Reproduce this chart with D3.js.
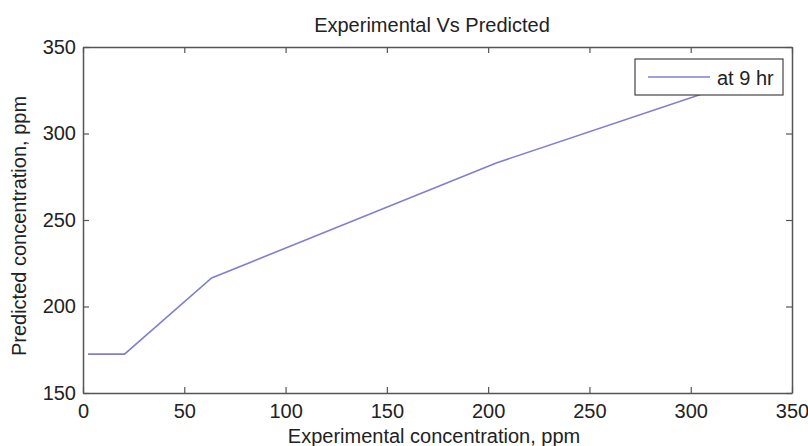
<!DOCTYPE html>
<html><head><meta charset="utf-8">
<script src="https://cdn.jsdelivr.net/npm/d3@7"></script>
<style>body{margin:0;background:#fff}text{font-family:"Liberation Sans",Arial,sans-serif;fill:#222}</style>
</head><body><svg id="c" width="808" height="446"></svg>
<script>
const xValues = [2.5, 20.5, 63.5, 204, 310];
const yValues = [172.5, 172.5, 216.5, 283, 324.5];
const xTicks = [0, 50, 100, 150, 200, 250, 300, 350];
const yTicks = [150, 200, 250, 300, 350];
const title = "Experimental Vs Predicted";
const xLabel = "Experimental concentration, ppm";
const yLabel = "Predicted concentration, ppm";
const legendLabel = "at 9 hr";

const svg = d3.select("#c");
const m = {l: 83, t: 47, r: 792, b: 393};
const x = d3.scaleLinear().domain([0, 350]).range([m.l, m.r]);
const y = d3.scaleLinear().domain([150, 350]).range([m.b, m.t]);
const axisColor = "#555";
const fs = 20;

// line
svg.append("path").datum(xValues.map((v, i) => [v, yValues[i]]))
  .attr("fill", "none").attr("stroke", "#7f7fd2").attr("stroke-width", 1.6)
  .attr("d", d3.line().x(d => x(d[0])).y(d => y(d[1])));

// axes with inside ticks
function styleAxis(g) {
  g.select(".domain").attr("stroke", axisColor).attr("stroke-width", 1.5);
  g.selectAll(".tick line").attr("stroke", axisColor).attr("stroke-width", 1.2);
  g.selectAll("text").attr("font-size", fs).attr("font-family", '"Liberation Sans",Arial,sans-serif').attr("fill", "#222");
}
svg.append("g").attr("transform", `translate(0,${m.b})`)
  .call(d3.axisBottom(x).tickValues(xTicks).tickSize(-6).tickPadding(6).tickSizeOuter(0))
  .call(styleAxis)
  .selectAll("text").attr("dy", null).attr("y", 25);
svg.append("g").attr("transform", `translate(0,${m.t})`)
  .call(d3.axisTop(x).tickValues(xTicks).tickSize(-6).tickFormat("").tickSizeOuter(0))
  .call(styleAxis);
svg.append("g").attr("transform", `translate(${m.l},0)`)
  .call(d3.axisLeft(y).tickValues(yTicks).tickSize(-6).tickPadding(7).tickSizeOuter(0))
  .call(styleAxis);
svg.append("g").attr("transform", `translate(${m.r},0)`)
  .call(d3.axisRight(y).tickValues(yTicks).tickSize(-6).tickFormat("").tickSizeOuter(0))
  .call(styleAxis);

// legend
const lg = svg.append("g");
lg.append("rect").attr("x", 635).attr("y", 59).attr("width", 148).attr("height", 36)
  .attr("fill", "#fff").attr("stroke", "#444").attr("stroke-width", 1.2);
lg.append("line").attr("x1", 648).attr("x2", 710).attr("y1", 77).attr("y2", 77)
  .attr("stroke", "#7f7fd2").attr("stroke-width", 1.6);
lg.append("text").attr("x", 717).attr("y", 85).attr("font-size", 20).text(legendLabel);

// titles
svg.append("text").attr("x", 432).attr("y", 32).attr("text-anchor", "middle")
  .attr("font-size", 20).text(title);
svg.append("text").attr("x", 434).attr("y", 443).attr("text-anchor", "middle")
  .attr("font-size", 20).text(xLabel);
svg.append("text").attr("transform", `translate(26,226) rotate(-90)`)
  .attr("text-anchor", "middle").attr("font-size", 20).text(yLabel);
</script></body></html>
